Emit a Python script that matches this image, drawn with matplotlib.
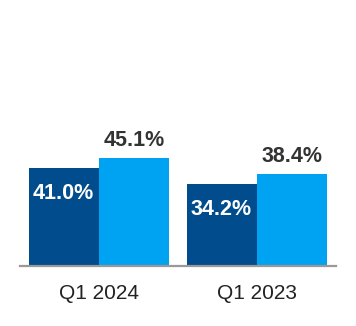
import numpy as np
import matplotlib.pyplot as plt

plt.rcParams['font.family'] = ['Liberation Sans', 'DejaVu Sans']

# chart data
periods = ['Q1 2024', 'Q1 2023']
series_dark = [41.0, 34.2]
series_light = [45.1, 38.4]

dark_color = '#004C8C'
light_color = '#00A2F2'

fig = plt.figure(figsize=(3.56, 3.26), dpi=100)
ax = fig.add_axes([20 / 356, 60 / 326, 316 / 356, 239 / 326])

x = np.arange(len(periods))
w = 0.44
bars_dark = ax.bar(x - w / 2, series_dark, w, color=dark_color)
bars_light = ax.bar(x + w / 2, series_light, w, color=light_color)

# white labels inside the dark bars
for b, v in zip(bars_dark, series_dark):
    ax.annotate(f'{v:.1f}%', (b.get_x() + b.get_width() / 2, v),
                xytext=(-1, -22.3), textcoords='offset points',
                ha='center', va='baseline', color='white',
                fontsize=15.5, fontweight='bold')

# dark labels above the light bars
for b, v in zip(bars_light, series_light):
    ax.annotate(f'{v:.1f}%', (b.get_x() + b.get_width() / 2, v),
                xytext=(0, 8.6), textcoords='offset points',
                ha='center', va='baseline', color='#333333',
                fontsize=15.5, fontweight='bold')

ax.set_xlim(-0.5, 1.5)
ax.set_ylim(0, 100)
ax.set_xticks(x)
ax.set_xticklabels(periods, fontsize=15, color='#222222')
ax.tick_params(axis='x', length=0, pad=13)
ax.set_yticks([])
for s in ['top', 'right', 'left']:
    ax.spines[s].set_visible(False)
ax.spines['bottom'].set_color('#999999')
ax.spines['bottom'].set_linewidth(1.6)

fig.savefig('out.png', dpi=100)
